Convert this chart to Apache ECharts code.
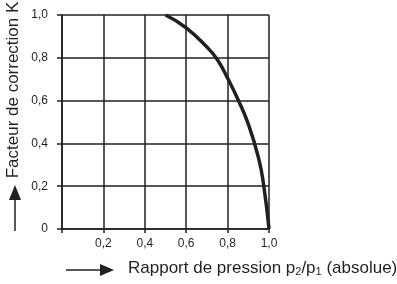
<!DOCTYPE html>
<html>
<head>
<meta charset="utf-8">
<script src="https://cdn.jsdelivr.net/npm/echarts@6/dist/echarts.min.js"></script>
<style>
  html, body { margin: 0; padding: 0; background: #fff; }
  #main { width: 397px; height: 284px; }
</style>
</head>
<body>
<div id="main"></div>
<script>
// courbe : rapport p2/p1 -> facteur K
var rapport = [0.5, 0.6, 0.7, 0.75, 0.8, 0.85, 0.9, 0.95, 0.975, 1.0];
var facteurK = [1.0, 0.94, 0.85, 0.792, 0.705, 0.605, 0.49, 0.33, 0.2, 0.0];
var ticksX = [0.2, 0.4, 0.6, 0.8, 1.0];

var ink = '#231f20';
var police = '"Liberation Sans", Arial, sans-serif';

function virgule(v) {
  if (v === 0) return '0';
  return v.toFixed(1).replace('.', ',');
}

var points = [];
for (var i = 0; i < rapport.length; i++) {
  points.push([rapport[i], facteurK[i]]);
}

var myChart = echarts.init(document.getElementById('main'));
var option = {
  animation: false,
  grid: { left: 62, right: 128, top: 15, bottom: 55 },
  xAxis: {
    type: 'value',
    min: 0, max: 1, interval: 0.2,
    axisLine: { lineStyle: { color: ink, width: 1.5 } },
    axisTick: { length: 4, lineStyle: { color: ink, width: 1.5 } },
    splitLine: { lineStyle: { color: ink, width: 1.5 } },
    axisLabel: {
      color: ink, fontFamily: police, fontSize: 12, margin: 9,
      formatter: function (v) { return ticksX.indexOf(+v.toFixed(1)) >= 0 ? virgule(v) : ''; }
    }
  },
  yAxis: {
    type: 'value',
    min: 0, max: 1, interval: 0.2,
    axisLine: { show: true, lineStyle: { color: ink, width: 1.5 } },
    axisTick: { show: true, length: 5, lineStyle: { color: ink, width: 1.5 } },
    splitLine: { lineStyle: { color: ink, width: 1.5 } },
    axisLabel: { color: ink, fontFamily: police, fontSize: 12, margin: 14, formatter: virgule }
  },
  series: [{
    type: 'line',
    data: points,
    smooth: 0.5,
    symbol: 'none',
    lineStyle: { color: ink, width: 3.5 }
  }],
  graphic: [
    // fleche verticale + titre Y
    { type: 'line', shape: { x1: 15, y1: 199, x2: 15, y2: 231 }, style: { stroke: ink, lineWidth: 1.5 } },
    { type: 'polygon', shape: { points: [[15, 185], [9, 200], [21, 200]] }, style: { fill: ink } },
    {
      type: 'text', x: 13, y: 90, rotation: Math.PI / 2,
      style: { text: 'Facteur de correction K', font: '17px ' + police, fill: ink, align: 'center', verticalAlign: 'middle' }
    },
    // fleche horizontale + titre X
    { type: 'line', shape: { x1: 66, y1: 270, x2: 101, y2: 270 }, style: { stroke: ink, lineWidth: 1.5 } },
    { type: 'polygon', shape: { points: [[114, 270], [100, 264], [100, 276]] }, style: { fill: ink } },
    {
      type: 'text', x: 128, y: 268,
      style: {
        text: '{a|Rapport de pression p}{s|2}{a|/p}{s|1}{a| (absolue)}',
        verticalAlign: 'middle',
        rich: {
          a: { font: '17px ' + police, fill: ink },
          s: { font: '11px ' + police, fill: ink, padding: [8, 0, 0, 0] }
        }
      }
    }
  ]
};
myChart.setOption(option);
</script>
</body>
</html>
